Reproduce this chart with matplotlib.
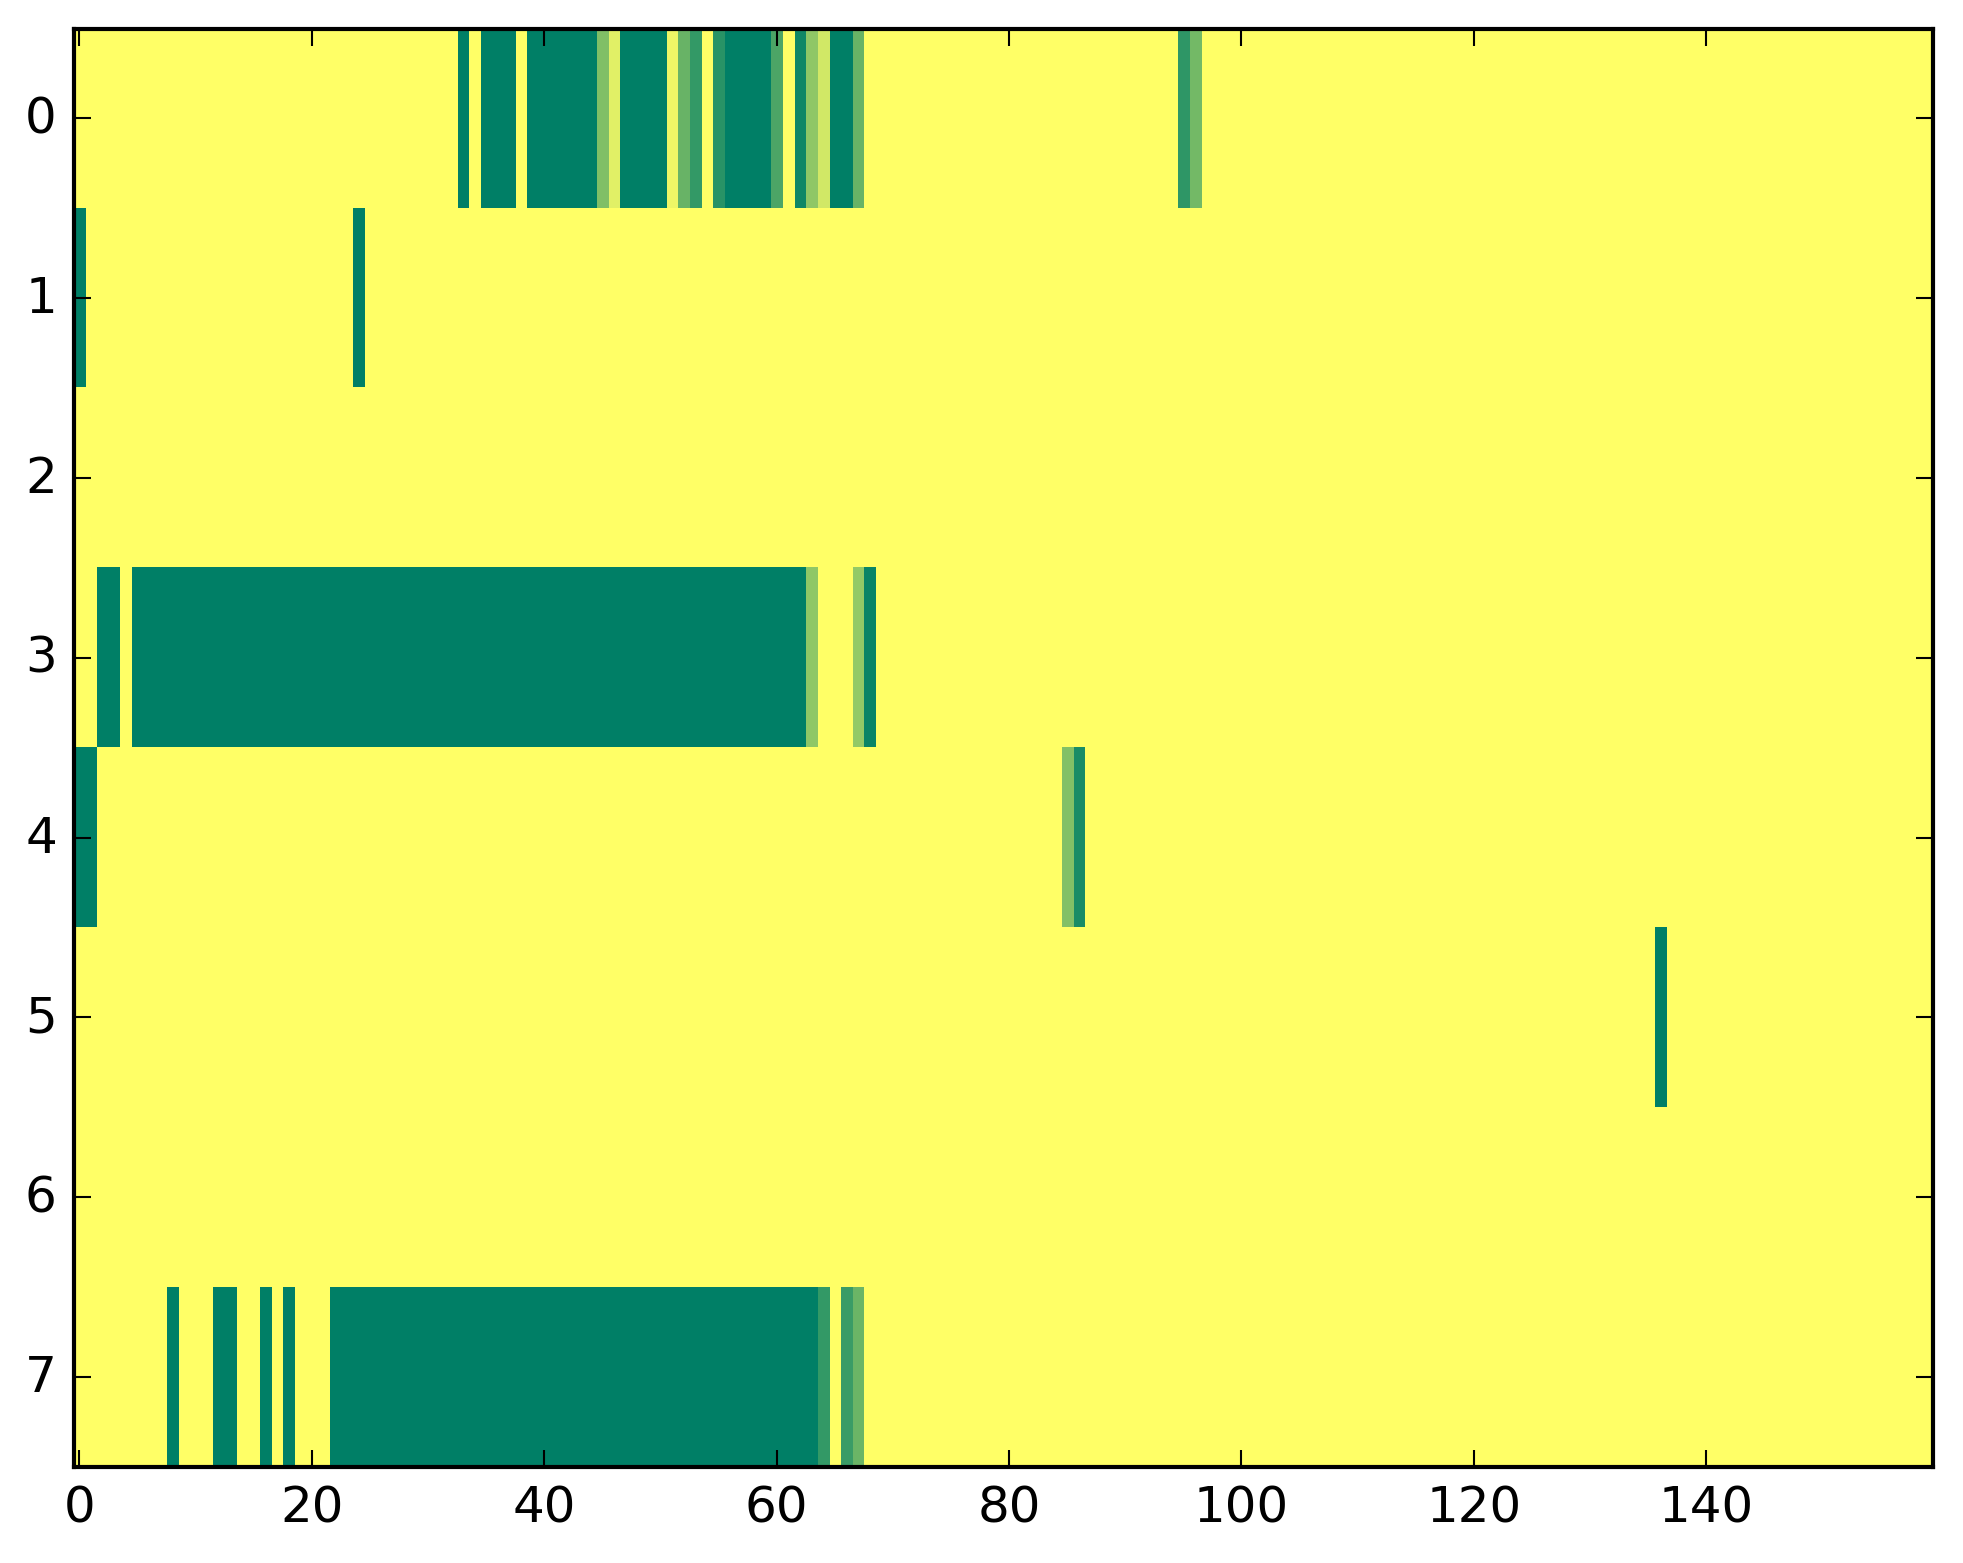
import numpy as np
import matplotlib
matplotlib.use("Agg")
import matplotlib.pyplot as plt

n_rows = 8
n_cols = 160
background = 1.0

# runs of non-background cells: (row, first_col, last_col, value)
row0_runs = [(33, 33, 0.0), (35, 37, 0.0), (39, 44, 0.0), (45, 45, 0.5),
             (46, 46, 0.88), (47, 50, 0.0), (51, 51, 0.93), (52, 52, 0.41),
             (53, 53, 0.2), (55, 55, 0.16), (56, 59, 0.0), (60, 60, 0.3),
             (62, 62, 0.06), (63, 63, 0.56), (64, 64, 0.82), (65, 66, 0.0),
             (67, 67, 0.41), (95, 95, 0.18), (96, 96, 0.45)]
row1_runs = [(0, 0, 0.0), (24, 24, 0.0)]
row2_runs = []
row3_runs = [(2, 3, 0.0), (5, 62, 0.0), (63, 63, 0.56), (67, 67, 0.58),
             (68, 68, 0.04)]
row4_runs = [(0, 1, 0.0), (85, 85, 0.51), (86, 86, 0.1)]
row5_runs = [(136, 136, 0.0)]
row6_runs = []
row7_runs = [(8, 8, 0.0), (12, 13, 0.0), (16, 16, 0.0), (18, 18, 0.0),
             (22, 63, 0.0), (64, 64, 0.2), (66, 66, 0.23), (67, 67, 0.42)]

all_runs = [row0_runs, row1_runs, row2_runs, row3_runs,
            row4_runs, row5_runs, row6_runs, row7_runs]

grid = np.full((n_rows, n_cols), background)
for r, runs in enumerate(all_runs):
    for c0, c1, v in runs:
        grid[r, c0:c1 + 1] = v

plt.style.use('classic')
W, H, dpi = 1963, 1564, 300
fig = plt.figure(figsize=(W / dpi, H / dpi), dpi=dpi)
left, right, top, bottom = 73.5, 1933, 29.5, 1468
ax = fig.add_axes([left / W, (H - bottom) / H, (right - left) / W, (bottom - top) / H])
ax.imshow(grid, cmap='summer', vmin=0, vmax=1, interpolation='nearest',
          aspect='auto')
ax.set_xlim(-0.5, n_cols - 0.5)
ax.set_ylim(n_rows - 0.5, -0.5)

fig.savefig('out.png', dpi=dpi)
